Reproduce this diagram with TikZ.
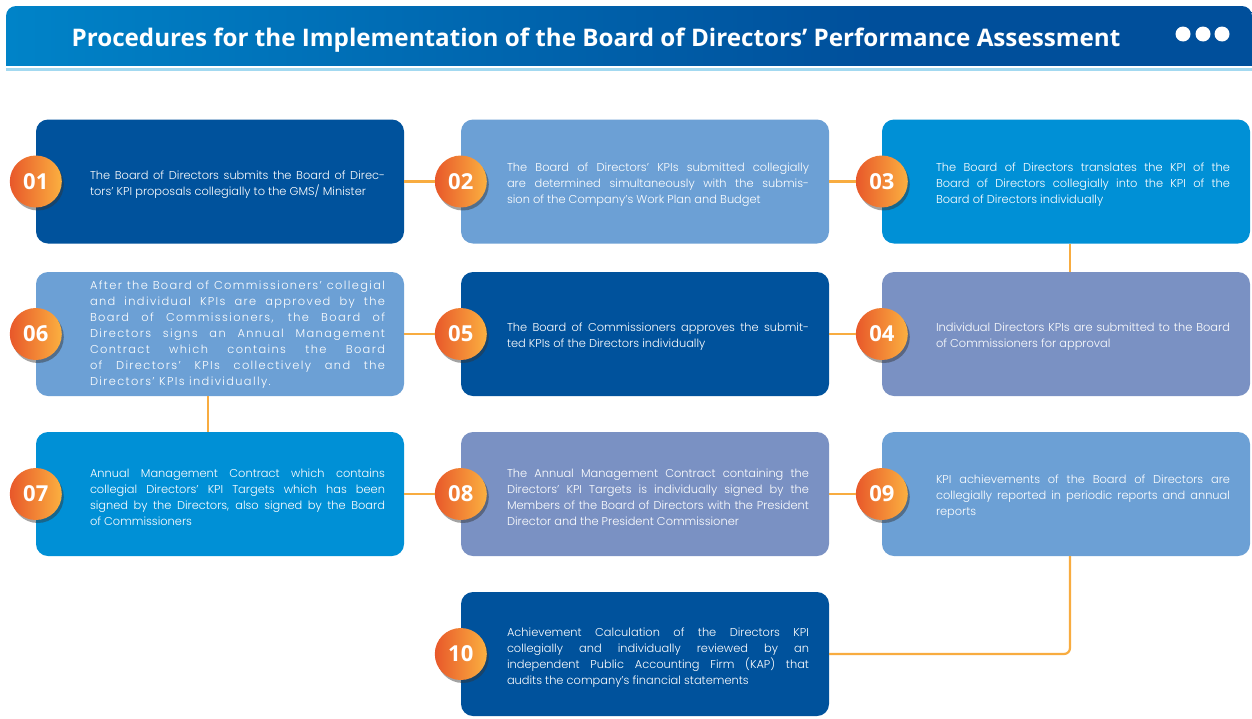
\documentclass[tikz,border=0pt]{standalone}
\usepackage{fontspec}
\setmainfont{Poppins}[UprightFont=* Light]
\newfontfamily\numfont{Open Sans}
\newfontfamily\titlefont{Open Sans}
\usetikzlibrary{shadows,calc}
\definecolor{dkblue}{HTML}{00529C}
\definecolor{ltblue}{HTML}{6CA0D5}
\definecolor{mdblue}{HTML}{0090D6}
\definecolor{periw}{HTML}{7A91C3}
\definecolor{conn}{HTML}{F8AC40}
\definecolor{orgA}{HTML}{E8582A}
\definecolor{orgB}{HTML}{FBB040}
\definecolor{hdrA}{HTML}{00A6E6}
\definecolor{hdrB}{HTML}{004F9B}
\definecolor{hdrline}{HTML}{A3D9F0}
\pgfdeclarehorizontalshading{hdrshade}{100bp}{color(0bp)=(hdrA); color(25bp)=(hdrA!60!hdrB); color(60bp)=(hdrB); color(100bp)=(hdrB)}
\newlength\tw
\newcommand\jl[1]{\makebox[\tw][s]{#1}\\}
\newcommand\lastl[1]{\makebox[\tw][l]{#1}}
\newcommand\settw[1]{\global\tw=#1\relax}
\tikzset{
  stepbox/.style={rectangle, rounded corners=12pt, minimum width=368pt, minimum height=124pt, inner sep=0pt},
  numcirc/.style={circle, minimum size=52pt, inner sep=0pt, left color=orgA, right color=orgB, text=white,
    font=\numfont\bfseries\fontsize{22}{22}\selectfont,
    drop shadow={shadow xshift=2pt, shadow yshift=-3pt, opacity=0.45, fill=black!80}},
  txt/.style={anchor=west, align=left, inner sep=0pt, text=white, font=\fontsize{11.4}{16}\selectfont},
  link/.style={draw=conn, line width=2.2pt},
}
\begin{document}
\begin{tikzpicture}[x=1pt,y=-1pt]
\useasboundingbox (0,0) rectangle (1252,718);
\fill[white] (0,0) rectangle (1252,718);
% header
\node[rectangle, minimum width=1246pt, minimum height=59pt, inner sep=0pt, shading=hdrshade,
  rounded corners=10pt] (hdr) at (629,35.5) {};
\shade[shading=hdrshade] (6,45) rectangle (1252,65);
\fill[hdrline] (6,68) rectangle (1252,71);
\node[text=white, font=\titlefont\bfseries\fontsize{24.2}{24}\selectfont] (title) at (596,40) {Procedures for the Implementation of the Board of Directors’ Performance Assessment};
\foreach \i/\x in {1/1183,2/1203,3/1222} \node[circle, fill=white, minimum size=15pt, inner sep=0pt] (dot\i) at (\x,34) {};
% boxes
\node[stepbox, fill=dkblue] (b1) at (220,181.5) {};
\node[stepbox, fill=ltblue] (b2) at (645,181.5) {};
\node[stepbox, fill=mdblue] (b3) at (1066,181.5) {};
\node[stepbox, fill=periw] (b4) at (1066,334) {};
\node[stepbox, fill=dkblue] (b5) at (645,334) {};
\node[stepbox, fill=ltblue] (b6) at (220,334) {};
\node[stepbox, fill=mdblue] (b7) at (220,494) {};
\node[stepbox, fill=periw] (b8) at (645,494) {};
\node[stepbox, fill=ltblue] (b9) at (1066,494) {};
\node[stepbox, fill=dkblue] (b10) at (645,654) {};
% circles
\foreach \k/\n in {1/01,2/02,3/03,4/04,5/05,6/06,7/07,8/08,9/09,10/10}
  \node[numcirc] (c\k) at (b\k.west) {\n};
% connectors
\path[link] (b1.east) -- (c2.west);
\path[link] (b2.east) -- (c3.west);
\path[link] ([xshift=4pt]b3.south) -- ([xshift=4pt]b4.north);
\path[link] (c4.west) -- (b5.east);
\path[link] (c5.west) -- (b6.east);
\path[link] ([xshift=-12pt]b6.south) -- ([xshift=-12pt]b7.north);
\path[link] (b7.east) -- (c8.west);
\path[link] (b8.east) -- (c9.west);
\path[link, rounded corners=6pt] ([xshift=4pt]b9.south) |- (b10.east);
% texts
\settw{295pt}
\node[txt] (t1) at ([xshift=54pt, yshift=-3pt]b1.west) {%
\jl{The Board of Directors submits the Board of Direc-}%
\lastl{tors’ KPI proposals collegially to the GMS/ Minister}};
\settw{302pt}
\node[txt] (t2) at ([xshift=46pt, yshift=-3pt]b2.west) {%
\jl{The Board of Directors’ KPIs submitted collegially}%
\jl{are determined simultaneously with the submis-}%
\lastl{sion of the Company’s Work Plan and Budget}};
\settw{294pt}
\node[txt] (t3) at ([xshift=54pt, yshift=-3pt]b3.west) {%
\jl{The Board of Directors translates the KPI of the}%
\jl{Board of Directors collegially into the KPI of the}%
\lastl{Board of Directors individually}};
\node[txt] (t4) at ([xshift=54pt, yshift=-3pt]b4.west) {%
\jl{Individual Directors KPIs are submitted to the Board}%
\lastl{of Commissioners for approval}};
\settw{302pt}
\node[txt] (t5) at ([xshift=46pt, yshift=-3pt]b5.west) {%
\jl{The Board of Commissioners approves the submit-}%
\lastl{ted KPIs of the Directors individually}};
\settw{295pt}
\node[txt, font=\fontsize{11.4}{16}\selectfont\addfontfeature{LetterSpace=12}] (t6) at ([xshift=54pt, yshift=-1pt]b6.west) {%
\jl{After the Board of Commissioners’ collegial}%
\jl{and individual KPIs are approved by the}%
\jl{Board of Commissioners, the Board of}%
\jl{Directors signs an Annual Management}%
\jl{Contract which contains the Board}%
\jl{of Directors’ KPIs collectively and the}%
\lastl{Directors’ KPIs individually.}};
\node[txt] (t7) at ([xshift=54pt, yshift=-3pt]b7.west) {%
\jl{Annual Management Contract which contains}%
\jl{collegial Directors’ KPI Targets which has been}%
\jl{signed by the Directors, also signed by the Board}%
\lastl{of Commissioners}};
\settw{302pt}
\node[txt] (t8) at ([xshift=46pt, yshift=-3pt]b8.west) {%
\jl{The Annual Management Contract containing the}%
\jl{Directors’ KPI Targets is individually signed by the}%
\jl{Members of the Board of Directors with the President}%
\lastl{Director and the President Commissioner}};
\settw{294pt}
\node[txt] (t9) at ([xshift=54pt, yshift=-3pt]b9.west) {%
\jl{KPI achievements of the Board of Directors are}%
\jl{collegially reported in periodic reports and annual}%
\lastl{reports}};
\settw{302pt}
\node[txt] (t10) at ([xshift=46pt, yshift=-4pt]b10.west) {%
\jl{Achievement Calculation of the Directors KPI}%
\jl{collegially and individually reviewed by an}%
\jl{independent Public Accounting Firm (KAP) that}%
\lastl{audits the company’s financial statements}};
\end{tikzpicture}
\end{document}
